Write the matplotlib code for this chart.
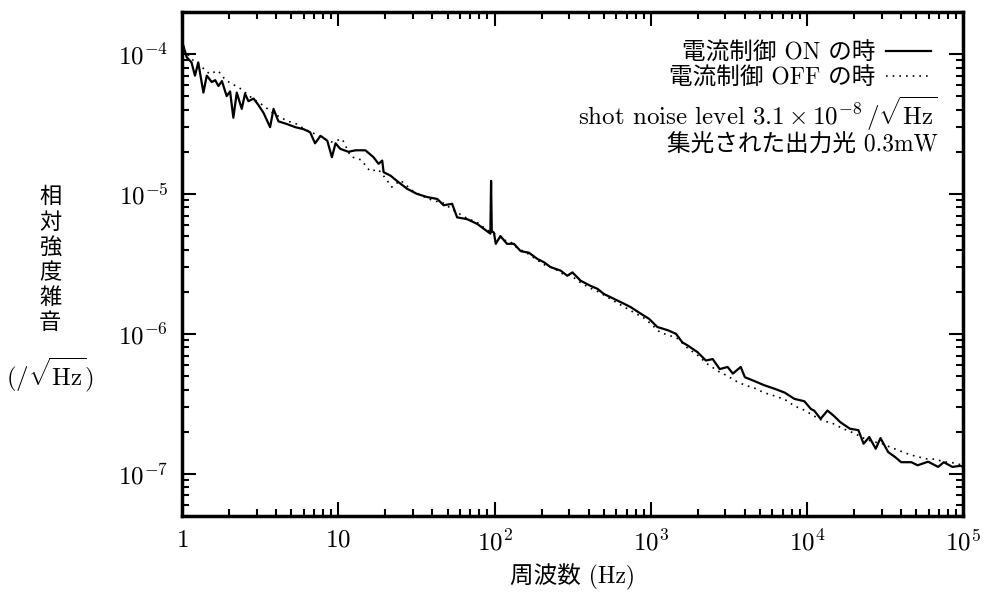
import matplotlib.pyplot as plt
import numpy as np

plt.rcParams['mathtext.fontset'] = 'cm'
plt.rcParams['font.family'] = ['cmr10', 'Noto Sans CJK JP']
plt.rcParams['axes.unicode_minus'] = False

# 電流制御 ON の時 (実線)
freq_on = [1.0, 1.02, 1.07, 1.15, 1.21, 1.27, 1.37, 1.44, 1.55, 1.63, 1.71, 1.80, 1.93, 2.03,
           2.13, 2.24, 2.41, 2.53, 2.66, 2.87, 3.09, 3.32, 3.66, 3.85, 4.14, 4.68, 5.3, 6.0,
           6.6, 7.1, 7.7, 8.5, 9.1, 9.6, 10.3, 11.6, 12.9, 14.9, 16.8, 18.1, 19.1, 19.5,
           21.6, 23.7, 27.5, 31.9, 37, 43, 47.2, 53.5, 57.6, 66.8, 77.5, 91.9, 94, 95, 96,
           99, 101.8, 109, 120, 133, 147, 166, 188, 207, 228, 265, 292, 315, 355, 412, 455,
           500, 580, 675, 745, 865, 975, 1100, 1290, 1450, 1590, 1710, 1990, 2250, 2490,
           2760, 3100, 3350, 3760, 4000, 4600, 5300, 6200, 7200, 8300, 9600, 10600, 11100,
           12200, 13500, 14800, 16300, 18800, 21300, 23000, 25000, 27500, 29500, 33000,
           36500, 40000, 46500, 51000, 59500, 69000, 75000, 85000, 96000, 100000]
val_on = [1.0e-4, 1.15e-4, 9.5e-5, 8.7e-5, 7.0e-5, 8.7e-5, 5.3e-5, 7.0e-5, 6.3e-5, 6.5e-5,
          5.9e-5, 6.4e-5, 5.0e-5, 5.4e-5, 3.5e-5, 5.3e-5, 4.05e-5, 5.2e-5, 4.6e-5, 4.8e-5,
          4.3e-5, 3.8e-5, 3.0e-5, 4.05e-5, 3.3e-5, 3.16e-5, 3.0e-5, 2.9e-5, 2.76e-5, 2.3e-5,
          2.6e-5, 2.4e-5, 1.83e-5, 2.3e-5, 2.1e-5, 2.0e-5, 2.05e-5, 2.05e-5, 1.83e-5, 1.64e-5,
          1.73e-5, 1.43e-5, 1.35e-5, 1.24e-5, 1.09e-5, 1.0e-5, 9.5e-6, 9.2e-6, 8.3e-6, 8.5e-6,
          6.8e-6, 6.6e-6, 6.1e-6, 5.3e-6, 5.2e-6, 1.24e-5, 5.4e-6, 5.3e-6, 4.4e-6, 5.0e-6,
          4.4e-6, 4.4e-6, 3.9e-6, 3.8e-6, 3.43e-6, 3.25e-6, 3.0e-6, 2.83e-6, 2.6e-6, 2.75e-6,
          2.4e-6, 2.2e-6, 2.1e-6, 1.93e-6, 1.78e-6, 1.64e-6, 1.55e-6, 1.39e-6, 1.28e-6,
          1.12e-6, 1.06e-6, 1.0e-6, 8.7e-7, 8.3e-7, 7.4e-7, 6.45e-7, 6.6e-7, 5.6e-7, 5.8e-7,
          5.2e-7, 5.8e-7, 4.9e-7, 4.6e-7, 4.3e-7, 4.05e-7, 3.8e-7, 3.43e-7, 3.3e-7, 2.9e-7,
          2.83e-7, 2.47e-7, 2.83e-7, 2.6e-7, 2.34e-7, 2.1e-7, 2.05e-7, 1.64e-7, 1.83e-7,
          1.51e-7, 1.8e-7, 1.43e-7, 1.32e-7, 1.21e-7, 1.21e-7, 1.15e-7, 1.22e-7, 1.12e-7,
          1.21e-7, 1.12e-7, 1.14e-7, 1.12e-7]

# 電流制御 OFF の時 (点線)
freq_off = [1.0, 1.1, 1.2, 1.35, 1.5, 1.7, 1.9, 2.1, 2.4, 2.7, 3.0, 3.3, 3.8, 4.3, 4.8, 5.4,
            6.1, 7.0, 8.0, 9.0, 10.6, 12, 14, 16, 18, 20, 22, 25, 30, 35, 40, 47, 55, 65, 78,
            90, 100, 110, 125, 140, 160, 185, 210, 240, 270, 310, 350, 400, 460, 520, 600,
            680, 780, 900, 1000, 1150, 1300, 1500, 1700, 2000, 2300, 2700, 3100, 3500, 4000,
            4600, 5300, 6200, 7200, 8300, 9600, 11000, 12500, 14500, 17000, 20000, 23000,
            26000, 30000, 34000, 38000, 43000, 50000, 58000, 66000, 75000, 85000, 100000]
val_off = [1.05e-4, 9.8e-5, 8.8e-5, 8.0e-5, 7.2e-5, 7.6e-5, 6.5e-5, 6.1e-5, 5.6e-5, 5.0e-5,
           4.6e-5, 4.3e-5, 3.8e-5, 3.5e-5, 3.3e-5, 3.16e-5, 2.9e-5, 2.7e-5, 2.5e-5, 2.35e-5,
           2.47e-5, 1.85e-5, 1.75e-5, 1.45e-5, 1.5e-5, 1.3e-5, 1.12e-5, 1.25e-5, 1.05e-5,
           9.6e-6, 9.0e-6, 8.6e-6, 7.6e-6, 6.8e-6, 6.2e-6, 5.5e-6, 5.2e-6, 4.7e-6, 4.6e-6,
           4.1e-6, 3.8e-6, 3.4e-6, 3.1e-6, 2.95e-6, 2.7e-6, 2.6e-6, 2.35e-6, 2.15e-6, 2.0e-6,
           1.85e-6, 1.68e-6, 1.55e-6, 1.42e-6, 1.3e-6, 1.18e-6, 1.02e-6, 9.8e-7, 9.2e-7,
           8.0e-7, 7.0e-7, 6.1e-7, 5.4e-7, 5.0e-7, 4.6e-7, 4.3e-7, 4.1e-7, 3.8e-7, 3.6e-7,
           3.4e-7, 3.05e-7, 2.85e-7, 2.6e-7, 2.4e-7, 2.3e-7, 2.1e-7, 1.95e-7, 1.8e-7, 1.7e-7,
           1.65e-7, 1.55e-7, 1.48e-7, 1.4e-7, 1.33e-7, 1.28e-7, 1.27e-7, 1.22e-7, 1.2e-7,
           1.15e-7]

xticks = [1, 10, 100, 1000, 10000, 100000]
xticklabels = ['$1$', '$10$', '$10^2$', '$10^3$', '$10^4$', '$10^5$']
yticks = [1e-7, 1e-6, 1e-5, 1e-4]
yticklabels = ['$10^{-7}$', '$10^{-6}$', '$10^{-5}$', '$10^{-4}$']

fig = plt.figure(figsize=(9.84, 5.93), dpi=100)
ax = fig.add_axes([0.185, 0.13, 0.794, 0.85])

ax.plot(freq_off, val_off, color='black', lw=1.2, linestyle=(0, (1, 3)),
        label='電流制御 OFF の時')
ax.plot(freq_on, val_on, color='black', lw=1.6, label='電流制御 ON の時')

ax.set_xscale('log')
ax.set_yscale('log')
ax.set_xlim(1, 1e5)
ax.set_ylim(5e-8, 2e-4)

ax.set_xticks(xticks)
ax.set_xticklabels(xticklabels, fontsize=18)
ax.set_yticks(yticks)
ax.set_yticklabels(yticklabels, fontsize=18)
ax.tick_params(which='both', direction='in', top=True, right=True, width=1.5)
ax.tick_params(which='major', length=10, pad=10)
ax.tick_params(which='minor', length=5)
for s in ax.spines.values():
    s.set_linewidth(2.5)

ax.set_xlabel('周波数 (Hz)', fontsize=17, labelpad=6)

fig.text(0.051, 0.562, '相\n対\n強\n度\n雑\n音', ha='center', va='center',
         fontsize=16, linespacing=1.12, family='Noto Sans CJK JP')
fig.text(0.051, 0.368, r'$(/\sqrt{\mathrm{Hz}})$', ha='center', va='center', fontsize=18)

# 凡例 (右寄せ)
h, l = ax.get_legend_handles_labels()
leg = ax.legend(h[::-1], l[::-1], loc='upper right', bbox_to_anchor=(0.958, 0.94),
                frameon=False, markerfirst=False, fontsize=17, handlelength=1.9,
                handletextpad=0.45, labelspacing=0.12, borderpad=0, borderaxespad=0)

ax.text(0.967, 0.797, r'shot noise level $3.1\times10^{-8}\,/\sqrt{\mathrm{Hz}}$',
        transform=ax.transAxes, ha='right', va='center', fontsize=18)
ax.text(0.967, 0.735, '集光された出力光 0.3mW', transform=ax.transAxes,
        ha='right', va='center', fontsize=17)

plt.savefig('out.png', dpi=100)
